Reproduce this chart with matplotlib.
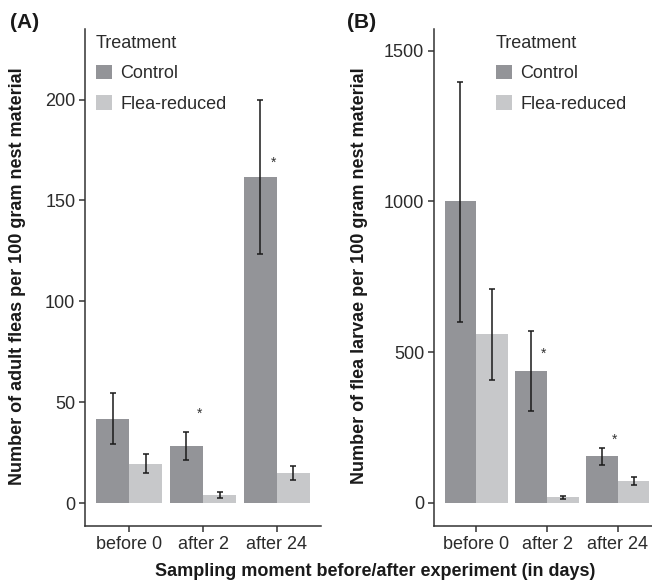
import matplotlib.pyplot as plt
import numpy as np

plt.rcParams['font.family'] = ['Liberation Sans', 'DejaVu Sans']

groups = ['before 0', 'after 2', 'after 24']
treatments = ['Control', 'Flea-reduced']
colors = ['#939498', '#c7c8ca']

# panel A: adult fleas
adult_mean = [[41.8, 28.4, 161.7], [19.4, 4.0, 14.9]]
adult_low = [[29.2, 21.5, 123.4], [14.9, 2.5, 11.6]]
adult_high = [[54.4, 35.3, 200.0], [24.2, 5.5, 18.3]]
adult_star = [None, 44.3, 168.7]

# panel B: flea larvae
larvae_mean = [[1000, 437, 155], [560, 18, 71]]
larvae_low = [[600, 304, 124], [409, 12, 59]]
larvae_high = [[1395, 571, 183], [709, 24, 85]]
larvae_star = [None, 493, 210]

W, H = 652, 583
fig = plt.figure(figsize=(W / 100, H / 100), dpi=100)

textc = '#1a1a1a'
tickc = '#2b2b2b'
axc = '#333333'


def panel(rect, means, lows, highs, stars, ylim, yticks, star_dx, leg_x):
    l, r, b, t = rect
    ax = fig.add_axes([l / W, 1 - b / H, (r - l) / W, (b - t) / H])
    x = np.arange(1, len(groups) + 1)
    w = 0.45
    for i, name in enumerate(treatments):
        pos = x + (i - 0.5) * w
        m = np.array(means[i])
        err = [m - np.array(lows[i]), np.array(highs[i]) - m]
        ax.bar(pos, m, width=w, color=colors[i], label=name)
        ax.errorbar(pos, m, yerr=err, fmt='none', ecolor='#1a1a1a',
                    elinewidth=1.1, capsize=2.3, capthick=1.1)
    for xi, s in zip(x, stars):
        if s is not None:
            ax.text(xi + star_dx, s, '*', ha='center', va='center',
                    fontsize=10, color=axc)
    ax.set_xlim(0.4, 3.6)
    ax.set_ylim(*ylim)
    ax.set_xticks(x)
    ax.set_xticklabels(groups)
    ax.set_yticks(yticks)
    for sp in ['top', 'right']:
        ax.spines[sp].set_visible(False)
    for sp in ['left', 'bottom']:
        ax.spines[sp].set_color(axc)
        ax.spines[sp].set_linewidth(1.1)
    ax.tick_params(labelsize=13, colors=axc, labelcolor=tickc,
                   length=4, width=1.1, pad=3)
    leg = ax.legend(title='Treatment', loc='upper left',
                    bbox_to_anchor=(leg_x / W, 1 - 35 / H),
                    bbox_transform=fig.transFigure, frameon=False,
                    fontsize=13, title_fontsize=13, borderpad=0,
                    handlelength=0.9, handleheight=0.85, handletextpad=0.45,
                    labelspacing=0.72, borderaxespad=0)
    leg._legend_box.align = 'left'
    for txt in leg.get_texts():
        txt.set_color(tickc)
    leg.get_title().set_color(tickc)
    return ax


axA = panel((85, 321, 526, 29), adult_mean, adult_low, adult_high,
            adult_star, (-11.4, 235), [0, 50, 100, 150, 200], -0.05, 96)
axB = panel((434, 660, 526, 29), larvae_mean, larvae_low, larvae_high,
            larvae_star, (-77, 1572), [0, 500, 1000, 1500], -0.05, 496)

fig.text(18 / W, 1 - 276 / H,
         'Number of adult fleas per 100 gram nest material',
         rotation=90, ha='center', va='center', fontsize=13,
         fontweight='bold', color=textc)
fig.text(360 / W, 1 - 276 / H,
         'Number of flea larvae per 100 gram nest material',
         rotation=90, ha='center', va='center', fontsize=13,
         fontweight='bold', color=textc)
fig.text(375 / W, 1 - 571 / H,
         'Sampling moment before/after experiment (in days)',
         ha='center', va='center', fontsize=13, fontweight='bold',
         color=textc)
fig.text(10 / W, 1 - 22 / H, '(A)', ha='left', va='center', fontsize=15,
         fontweight='bold', color=textc)
fig.text(347 / W, 1 - 22 / H, '(B)', ha='left', va='center', fontsize=15,
         fontweight='bold', color=textc)

fig.savefig('out.png', dpi=100)
